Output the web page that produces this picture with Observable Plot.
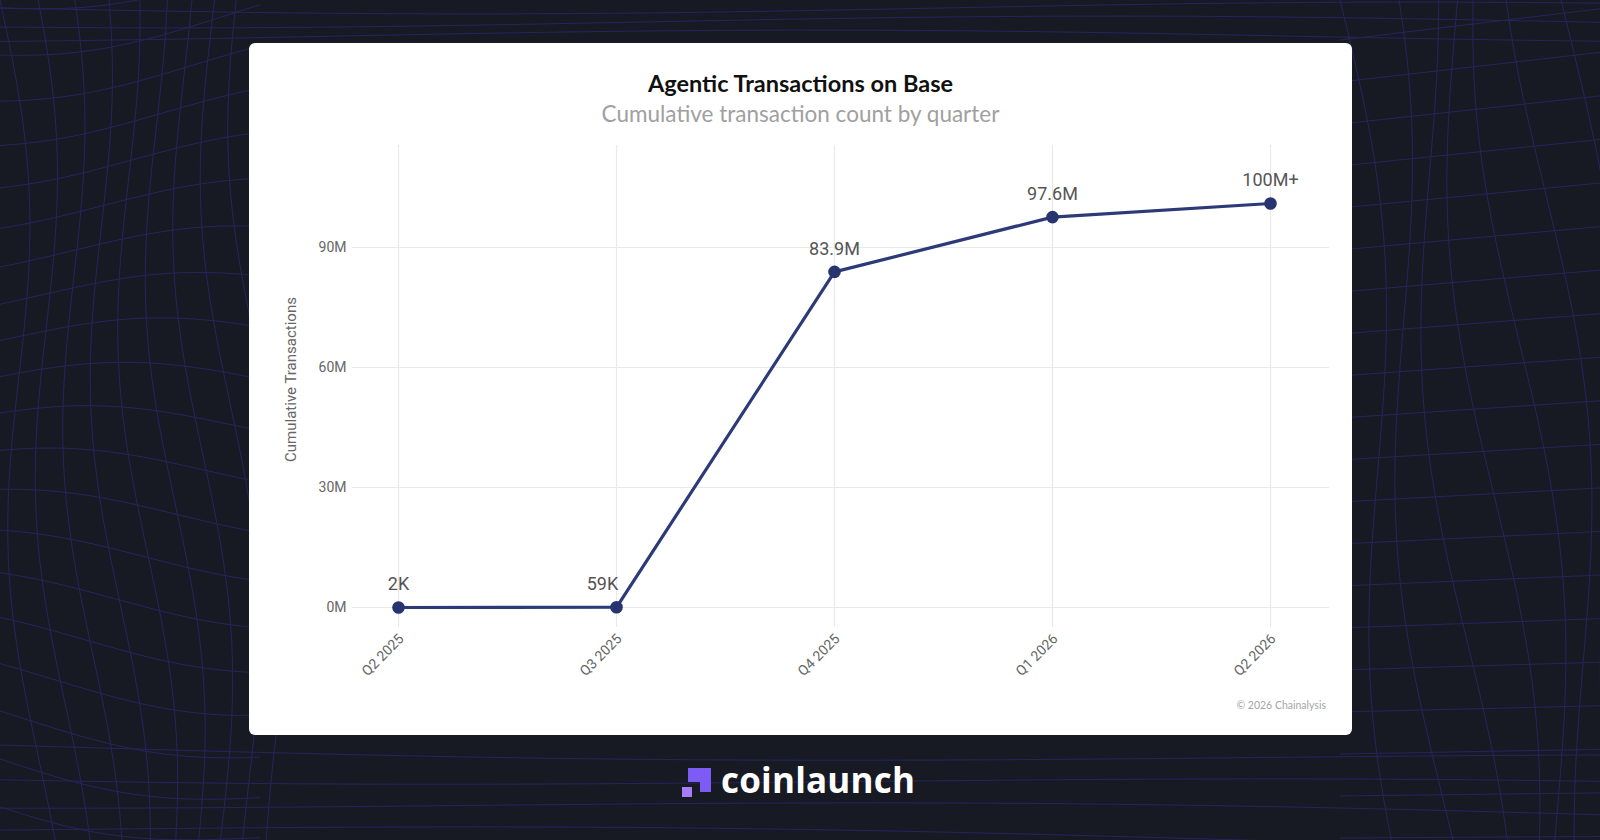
<!DOCTYPE html>
<html>
<head>
<meta charset="utf-8">
<script src="https://cdn.jsdelivr.net/npm/d3@7"></script>
<script src="https://cdn.jsdelivr.net/npm/@observablehq/plot@0.6"></script>
<style>
  html, body { margin: 0; padding: 0; }
  body { width: 1600px; height: 840px; background: #181a23; position: relative; overflow: hidden; font-family: Lato, "Open Sans", sans-serif; }
  #bg { position: absolute; left: 0; top: 0; }
  #card { position: absolute; left: 249px; top: 43px; width: 1103px; height: 692px; background: #fff; border-radius: 6px; }
  #title { position: absolute; left: 0; right: 0; top: 71px; text-align: center; }
  #title h1 { margin: 0; font: 700 23.5px Lato, sans-serif; color: #111; line-height: 28px; position: absolute; left: 0; right: 0; top: -45px; }
  #title h2 { margin: 0; font: 400 22.5px Lato, sans-serif; color: #a0a0a0; line-height: 28px; position: absolute; left: 0; right: 0; top: -14px; }
  #chart { position: absolute; left: 0; top: 87px; }
  #caption { position: absolute; right: 26px; top: 656px; font: 400 10.5px Lato, sans-serif; color: #a5a5a5; }
  #logo { position: absolute; left: 682px; top: 768px; height: 30px; }
  #logo svg { position: absolute; left: 0; top: 0; }
  #logo span { position: absolute; left: 39px; top: -12px; font: 700 35px "Open Sans", sans-serif; color: #fff; letter-spacing: 0.2px; white-space: nowrap; }
</style>
</head>
<body>
<svg id="bg" width="1600" height="840"></svg>
<div id="card">
  <div id="title">
    <h1>Agentic Transactions on Base</h1>
    <h2>Cumulative transaction count by quarter</h2>
  </div>
  <div id="chart"></div>
  <div id="caption">© 2026 Chainalysis</div>
</div>
<div id="logo">
  <svg width="30" height="30" viewBox="0 0 30 30">
    <path d="M6 0 H29 V24 H18 V14 H6 Z" fill="#7d5cf5"/>
    <rect x="0" y="19" width="10" height="10" fill="#a77cf8"/>
  </svg>
  <span>coinlaunch</span>
</div>
<script>
// ---- data ----
const quarters = ["Q2 2025", "Q3 2025", "Q4 2025", "Q1 2026", "Q2 2026"];
const cumulative = [2e3, 59e3, 83.9e6, 97.6e6, 101e6];
const pointLabels = ["2K", "59K", "83.9M", "97.6M", "100M+"];
const yTicks = [0, 30e6, 60e6, 90e6];
const yTitle = "Cumulative Transactions";

const rows = quarters.map((q, i) => ({quarter: q, value: cumulative[i], label: pointLabels[i]}));

// ---- decorative background mesh ----
(function () {
  const svg = d3.select("#bg");
  const g = svg.append("g").attr("fill", "none").attr("stroke", "#2a2872").attr("stroke-width", 1).attr("opacity", 0.75);
  const line = d3.line().curve(d3.curveBasis);
  for (let i = 0; i < 22; i++) {
    const y0 = -40 + i * 42;
    const pts = [];
    for (let x = 0; x <= 260; x += 26) pts.push([x, y0 + Math.sin((x + i * 30) / 90) * 18 + (x / 260) * (i - 10) * 4]);
    g.append("path").attr("d", line(pts));
  }
  for (let j = 0; j < 9; j++) {
    const x0 = j * 30;
    const pts = [];
    for (let y = 0; y <= 840; y += 40) pts.push([x0 + Math.sin((y + j * 50) / 120) * 20 + y * 0.05, y]);
    g.append("path").attr("d", line(pts));
  }
  for (let i = 0; i < 20; i++) {
    const y0 = 40 + i * 42;
    const pts = [];
    for (let x = 1340; x <= 1600; x += 26) pts.push([x, y0 - (x - 1340) * (0.12 - i * 0.006)]);
    g.append("path").attr("d", line(pts));
  }
  for (let j = 0; j < 7; j++) {
    const pts = [];
    for (let y = 0; y <= 840; y += 40) pts.push([1340 + j * 38 + Math.sin(y / 150 + j) * 25 + y * 0.08, y]);
    g.append("path").attr("d", line(pts));
  }
  for (let i = 0; i < 4; i++) {
    const pts = [];
    for (let x = 0; x <= 1600; x += 80) pts.push([x, 745 + i * 28 + Math.sin(x / 400 + i) * 8 + x * 0.01]);
    g.append("path").attr("d", line(pts));
  }
  for (let i = 0; i < 3; i++) {
    const pts = [];
    for (let x = 0; x <= 1600; x += 80) pts.push([x, 8 + i * 14 + Math.sin(x / 300 + i) * 6]);
    g.append("path").attr("d", line(pts));
  }
})();

// ---- chart ----
const W = 1103, H = 560;
const chart = Plot.plot({
  width: W,
  height: H,
  marginLeft: 103,
  marginRight: 23,
  marginTop: 15,
  marginBottom: 63,
  style: {fontFamily: "Roboto, sans-serif", background: "transparent", overflow: "visible"},
  x: {type: "point", domain: quarters, range: [147, 1022], padding: 0},
  y: {domain: [-5e6, 115.5e6]},
  marks: [
    Plot.ruleY(yTicks, {stroke: "#e9e9e9", strokeWidth: 1.2}),
    Plot.ruleX(quarters, {x: d => d, stroke: "#e9e9e9", strokeWidth: 1.2}),
    Plot.axisY({ticks: yTicks, tickFormat: d => d / 1e6 + "M", tickSize: 0, tickPadding: 6, fontSize: 14, color: "#666", label: null}),
    Plot.text([yTitle], {frameAnchor: "left", textAnchor: "middle", lineAnchor: "middle", rotate: -90, dx: -61, dy: -7, fontSize: 15, fill: "#666"}),
    Plot.axisX({tickRotate: -45, tickSize: 0, tickPadding: 9, dx: 3, fontSize: 14, color: "#666", label: null}),
    Plot.line(rows, {x: "quarter", y: "value", stroke: "#2c3a78", strokeWidth: 3.2}),
    Plot.dot(rows, {x: "quarter", y: "value", r: 6.3, fill: "#27346f"}),
    Plot.text(rows, {filter: d => d.label !== "59K", x: "quarter", y: "value", text: "label", dy: -23, fontSize: 18, fill: "#555"}),
    Plot.text(rows, {filter: d => d.label === "59K", x: "quarter", y: "value", text: "label", dy: -23, dx: -14, fontSize: 18, fill: "#555"})
  ]
});
document.getElementById("chart").appendChild(chart);
</script>
</body>
</html>
